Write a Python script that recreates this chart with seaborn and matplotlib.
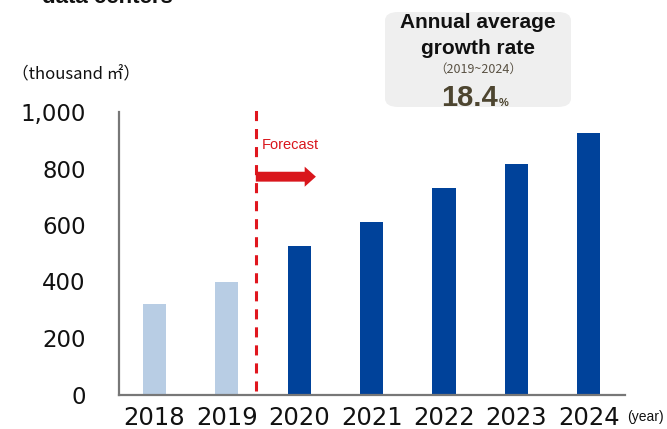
import matplotlib
matplotlib.use("Agg")
import matplotlib.pyplot as plt
from matplotlib.patches import FancyBboxPatch, FancyArrow
import seaborn as sns
import pandas as pd

# Floor space of data centers, thousand m2
years = ["2018", "2019", "2020", "2021", "2022", "2023", "2024"]
floor_space = [320, 398, 526, 612, 732, 815, 925]
phase = ["Actual", "Actual", "Forecast", "Forecast", "Forecast", "Forecast", "Forecast"]
yticks = [0, 200, 400, 600, 800, 1000]
ytick_labels = ["0", "200", "400", "600", "800", "1,000"]
cagr_label = "18.4"
cagr_period = "（2019~2024）"

df = pd.DataFrame({"year": years, "space": floor_space, "phase": phase})

sns.set_theme(style="white")
plt.rcParams["font.family"] = ["DejaVu Sans", "Noto Sans CJK JP"]

fig = plt.figure(figsize=(6.67, 4.29), dpi=100)
ax = fig.add_axes([119 / 667, 1 - 394.5 / 429, (625 - 119) / 667, (394.5 - 112) / 429])

sns.barplot(data=df, x="year", y="space", hue="phase",
            palette={"Actual": "#B8CDE4", "Forecast": "#00429A"},
            dodge=False, width=0.32, legend=False, saturation=1,
            edgecolor="none", ax=ax)

ax.set_ylim(0, 1000)
ax.set_xlim(-0.49, 6.5)
ax.set_yticks(yticks)
ax.set_yticklabels(ytick_labels)
ax.set_xlabel("")
ax.set_ylabel("")
ax.tick_params(axis="y", length=0, pad=24, labelsize=16.5, colors="#111111")
ax.tick_params(axis="x", length=0, pad=8, labelsize=17.5, colors="#111111")
for side in ["top", "right"]:
    ax.spines[side].set_visible(False)
for side in ["left", "bottom"]:
    ax.spines[side].set_color("#777777")
    ax.spines[side].set_linewidth(1.6)

# forecast divider and arrow
ax.plot([1.40, 1.40], [14, 1008], color="#E0161E", lw=2.2,
        dashes=(3.3, 2.6), clip_on=False, zorder=3)
ax.add_patch(FancyArrow(1.40, 771, 0.83, 0, width=35, head_width=71,
                        head_length=0.155, length_includes_head=True,
                        color="#D9161C", lw=0, zorder=4))
ax.text(1.485, 883, "Forecast", color="#D9161C", fontsize=10.5,
        family="Liberation Sans", va="center", ha="left")

# units and year labels
fig.text(12 / 667, 1 - 75 / 429, "（thousand ㎡）", fontsize=12,
         family=["Noto Sans CJK JP", "DejaVu Sans"], va="center", ha="left",
         color="#111111")
fig.text(627 / 667, 1 - 417 / 429, "(year)", fontsize=10,
         family="Liberation Sans", va="center", ha="left", color="#111111")

# title, partly above the canvas
fig.text(42 / 667, 1 - 3 / 429, "data centers", fontsize=16, weight="bold",
         family="Liberation Sans", va="baseline", ha="left", color="#111111")

# growth-rate callout
box = FancyBboxPatch((385 / 667, 1 - 107 / 429), (571 - 385) / 667, (107 - 12) / 429,
                     boxstyle="round,pad=0,rounding_size=0.02",
                     transform=fig.transFigure, facecolor="#EFEFEF",
                     edgecolor="none", zorder=0)
fig.patches.append(box)
cx = 478 / 667
fig.text(cx, 1 - 22 / 429, "Annual average", fontsize=15, weight="bold",
         family="Liberation Sans", ha="center", va="center", color="#111111")
fig.text(cx, 1 - 48 / 429, "growth rate", fontsize=15, weight="bold",
         family="Liberation Sans", ha="center", va="center", color="#111111")
fig.text(cx, 1 - 69 / 429, cagr_period, fontsize=9,
         family=["Noto Sans CJK JP", "DejaVu Sans"], ha="center", va="center",
         color="#5A5244")
fig.text(498 / 667, 1 - 106 / 429, cagr_label, fontsize=21,
         weight="bold", family="Liberation Sans", ha="right",
         va="baseline", color="#4D4530")
fig.text(499 / 667, 1 - 106 / 429, "%", fontsize=8, weight="bold",
         family="Liberation Sans", ha="left", va="baseline", color="#4D4530")

fig.savefig("out.png", dpi=100)
